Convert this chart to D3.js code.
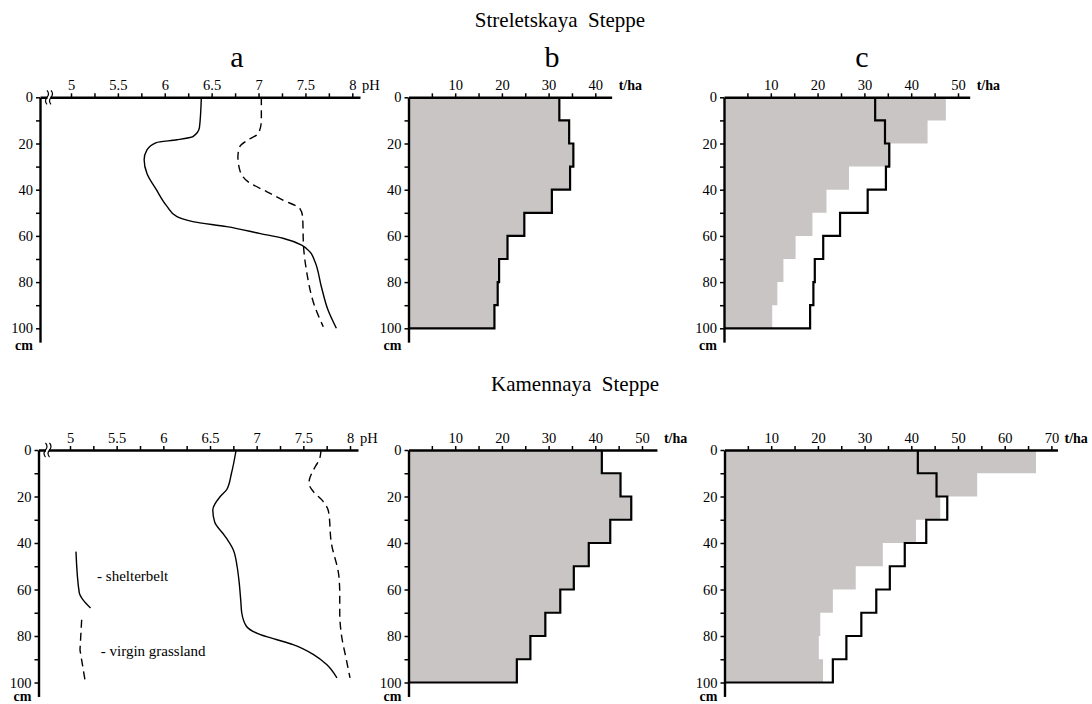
<!DOCTYPE html>
<html>
<head>
<meta charset="utf-8">
<script src="https://cdn.jsdelivr.net/npm/d3@7"></script>
<style>
  body { margin: 0; background: #fff; }
  svg { display: block; }
</style>
</head>
<body>
<svg width="1092" height="704"></svg>
<script>
// ---- data (depth in cm, pH, stocks in t/ha) ----
var layerTops = [0, 10, 20, 30, 40, 50, 60, 70, 80, 90];   // each layer is 10 cm thick
var depthTicks = [0, 10, 20, 30, 40, 50, 60, 70, 80, 90, 100];
var depthLabels = [0, 20, 40, 60, 80, 100];
var phLabels = [5, 5.5, 6, 6.5, 7, 7.5, 8];

// Streletskaya Steppe pH profiles
var strShelterDepth = [0, 13, 17, 18.4, 19.6, 22.8, 27, 33, 40, 47, 51.7, 53.8, 56, 59, 61, 64, 67, 71, 82, 92, 100];
var strShelterPH    = [6.39, 6.37, 6.30, 6.13, 5.91, 5.81, 5.78, 5.81, 5.91, 6.02, 6.13, 6.30, 6.66, 7.02, 7.26, 7.46, 7.55, 7.60, 7.67, 7.74, 7.83];
var strVirginDepth  = [0, 10, 15.6, 18.4, 21.4, 25.7, 31.5, 36.6, 40.9, 44.5, 48.1, 51.7, 64.6, 74.7, 90.6, 99.3];
var strVirginPH     = [7.03, 7.03, 7.00, 6.89, 6.80, 6.78, 6.80, 6.89, 7.09, 7.26, 7.44, 7.47, 7.48, 7.51, 7.60, 7.69];

// Kamennaya Steppe pH profiles
var kamShelterDepth = [0, 10, 17, 20, 25.8, 31, 37, 43, 50, 56, 65, 70, 75.8, 79.4, 81.5, 83.7, 88, 92.3, 98];
var kamShelterPH    = [6.78, 6.73, 6.68, 6.61, 6.53, 6.55, 6.66, 6.75, 6.79, 6.81, 6.83, 6.84, 6.89, 7.04, 7.21, 7.39, 7.61, 7.75, 7.86];
var kamVirginDepth  = [0, 4.3, 7, 14.3, 18, 22, 26.5, 40, 54, 62, 70, 80, 90, 98];
var kamVirginPH     = [7.69, 7.67, 7.63, 7.56, 7.61, 7.71, 7.77, 7.80, 7.88, 7.89, 7.89, 7.91, 7.96, 8.00];

// stocks per 10 cm layer
var strShelterStock = [32.3, 34.4, 35.3, 34.6, 30.7, 24.8, 21.2, 19.4, 19.1, 18.4];
var strVirginStock  = [47.4, 43.5, 35.6, 26.7, 21.9, 18.9, 15.3, 12.7, 11.4, 10.3];
var kamShelterStock = [41.4, 45.4, 47.7, 43.2, 38.6, 35.4, 32.5, 29.3, 26.1, 23.2];
var kamVirginStock  = [66.7, 54.1, 46.2, 41.0, 33.9, 28.1, 23.2, 20.5, 20.2, 21.1];

// legend samples (drawn in pH/depth space of the lower pH panel)
var legendSolidPH = [5.064, 5.10, 5.14, 5.22], legendSolidDepth = [43.7, 61.6, 64.5, 68];
var legendDashPH  = [5.125, 5.107, 5.16],      legendDashDepth  = [73, 86, 98.8];

// ---- layout ----
var svg = d3.select("svg");
var fillGray = "#c9c5c5";
var serif = "'Liberation Serif', 'Times New Roman', Times, serif";

var rows = [
  { title: "Streletskaya  Steppe", titleX: 560, titleY: 27, y0: 97.3, y100: 328.3 },
  { title: "Kamennaya  Steppe",    titleX: 575, titleY: 391, y0: 450, y100: 682.5 }
];

var panels = [
  { row: 0, kind: "ph", axisX: 40, x5: 71, x8: 352.3, end: 360, letter: "a", letterX: 237,
    solid: [strShelterPH, strShelterDepth], dashed: [strVirginPH, strVirginDepth] },
  { row: 0, kind: "stock", axisX: 408.5, px: 4.67, max: 43.5, labels: [10, 20, 30, 40], letter: "b", letterX: 552,
    fill: strShelterStock },
  { row: 0, kind: "stock", axisX: 724, px: 4.68, max: 52.5, labels: [10, 20, 30, 40, 50], letter: "c", letterX: 862,
    fill: strVirginStock, line: strShelterStock },
  { row: 1, kind: "ph", axisX: 38.5, x5: 70, x8: 350, end: 358, legend: true,
    solid: [kamShelterPH, kamShelterDepth], dashed: [kamVirginPH, kamVirginDepth] },
  { row: 1, kind: "stock", axisX: 408.5, px: 4.67, max: 53.2, labels: [10, 20, 30, 40, 50],
    fill: kamShelterStock },
  { row: 1, kind: "stock", axisX: 724.5, px: 4.67, max: 71.3, labels: [10, 20, 30, 40, 50, 60, 70],
    fill: kamVirginStock, line: kamShelterStock }
];

rows.forEach(function(r) {
  svg.append("text")
    .attr("x", r.titleX).attr("y", r.titleY)
    .attr("text-anchor", "middle")
    .style("font-size", "21px").style("white-space", "pre")
    .text(r.title);
});

function toPoints(xs, ys) {
  return xs.map(function(v, i) { return [v, ys[i]]; });
}

// stepped profile: each value holds over its 10 cm layer, closed back to the axis at 100 cm
function stepPoints(values) {
  var pts = [];
  values.forEach(function(v, i) {
    pts.push([v, layerTops[i]]);
    pts.push([v, layerTops[i] + 10]);
  });
  pts.push([0, 100]);
  return pts;
}

panels.forEach(function(p) {
  var r = rows[p.row];
  var g = svg.append("g");
  var y = d3.scaleLinear().domain([0, 100]).range([r.y0, r.y100]);
  var x, xAxisScale, minor, labelSet;

  if (p.kind === "ph") {
    x = d3.scaleLinear().domain([5, 8]).range([p.x5, p.x8]);
    xAxisScale = d3.scaleLinear().domain([x.invert(p.axisX), x.invert(p.end)]).range([p.axisX, p.end]);
    minor = d3.range(5, 8.001, 0.25);
    labelSet = phLabels;
  } else {
    x = d3.scaleLinear().domain([0, 10]).range([p.axisX, p.axisX + 10 * p.px]);
    xAxisScale = d3.scaleLinear().domain([0, p.max]).range([p.axisX, x(p.max)]);
    minor = d3.range(5, p.max, 5);
    labelSet = p.labels;
  }

  var line = d3.line().x(function(d) { return x(d[0]); }).y(function(d) { return y(d[1]); });

  if (p.kind === "stock") {
    var pts = stepPoints(p.fill);
    g.append("path")
      .attr("d", line([[0, 0]].concat(pts)) + "Z")
      .attr("fill", fillGray);
    var outline = p.line ? stepPoints(p.line) : pts;
    g.append("path")
      .attr("d", line(outline))
      .attr("fill", "none").attr("stroke", "#000").attr("stroke-width", 2.2);
  } else {
    var curve = d3.line().x(function(d) { return x(d[0]); }).y(function(d) { return y(d[1]); })
      .curve(d3.curveMonotoneY);
    g.append("path")
      .attr("d", curve(toPoints(p.solid[0], p.solid[1])))
      .attr("fill", "none").attr("stroke", "#000").attr("stroke-width", 1.4);
    g.append("path")
      .attr("d", curve(toPoints(p.dashed[0], p.dashed[1])))
      .attr("fill", "none").attr("stroke", "#000").attr("stroke-width", 1.4)
      .attr("stroke-dasharray", "8,5");

    if (p.legend) {
      g.append("path")
        .attr("d", curve(toPoints(legendSolidPH, legendSolidDepth)))
        .attr("fill", "none").attr("stroke", "#000").attr("stroke-width", 1.4);
      g.append("path")
        .attr("d", line(toPoints(legendDashPH, legendDashDepth)))
        .attr("fill", "none").attr("stroke", "#000").attr("stroke-width", 1.4)
        .attr("stroke-dasharray", "8,5");
      g.append("text").attr("x", x(5.29)).attr("y", y(56.5))
        .style("font-size", "15px").text("- shelterbelt");
      g.append("text").attr("x", x(5.33)).attr("y", y(88.5))
        .style("font-size", "15px").text("- virgin grassland");
    }
  }

  // depth axis
  var yAxisScale = d3.scaleLinear().domain([0, 106]).range([r.y0, y(106)]);
  var yAxis = g.append("g")
    .attr("transform", "translate(" + p.axisX + ",0)")
    .call(d3.axisLeft(yAxisScale)
      .tickValues(depthTicks)
      .tickSize(4).tickSizeOuter(0).tickPadding(3)
      .tickFormat(function(d) { return depthLabels.indexOf(d) >= 0 ? d : ""; }));

  // value axis along the surface
  var xAxis = g.append("g")
    .attr("transform", "translate(0," + r.y0 + ")")
    .call(d3.axisTop(xAxisScale)
      .tickValues(minor)
      .tickSize(4).tickSizeOuter(0).tickPadding(3)
      .tickFormat(function(d) {
        return labelSet.some(function(l) { return Math.abs(l - d) < 1e-6; }) ? d : "";
      }));

  [yAxis, xAxis].forEach(function(a) {
    a.attr("font-family", null).attr("font-size", null);
    a.select(".domain").attr("stroke", "#000").attr("stroke-width", 2.4);
    a.selectAll(".tick line").attr("stroke", "#000").attr("stroke-width", 1.5);
    a.selectAll("text").attr("fill", "#000").style("font-size", "14.5px");
  });

  // axis break on the pH axis
  if (p.kind === "ph") {
    var bx = p.axisX + 7, by = r.y0;
    g.append("rect").attr("x", bx + 0.5).attr("y", by - 2).attr("width", 3).attr("height", 4).attr("fill", "#fff");
    [0, 4].forEach(function(dx) {
      g.append("path")
        .attr("d", "M" + (bx + dx) + "," + (by - 7) + " q 3,3.5 0,7 t 0,7")
        .attr("fill", "none").attr("stroke", "#000").attr("stroke-width", 1.2);
    });
  }

  // unit labels
  g.append("text")
    .attr("x", p.axisX - 16).attr("y", Math.min(y(100) + 22, 701))
    .attr("text-anchor", "middle")
    .style("font-size", "14px").style("font-weight", "bold")
    .text("cm");
  g.append("text")
    .attr("x", p.kind === "ph" ? p.end + 2 : xAxisScale.range()[1] + 7)
    .attr("y", r.y0 - 7)
    .style("font-size", p.kind === "ph" ? "14.5px" : "14px")
    .style("font-weight", p.kind === "ph" ? "normal" : "bold")
    .text(p.kind === "ph" ? "pH" : "t/ha");

  if (p.letter) {
    g.append("text")
      .attr("x", p.letterX).attr("y", 67)
      .attr("text-anchor", "middle")
      .style("font-size", "30px")
      .text(p.letter);
  }
});

svg.selectAll("text").style("font-family", serif);
</script>
</body>
</html>
